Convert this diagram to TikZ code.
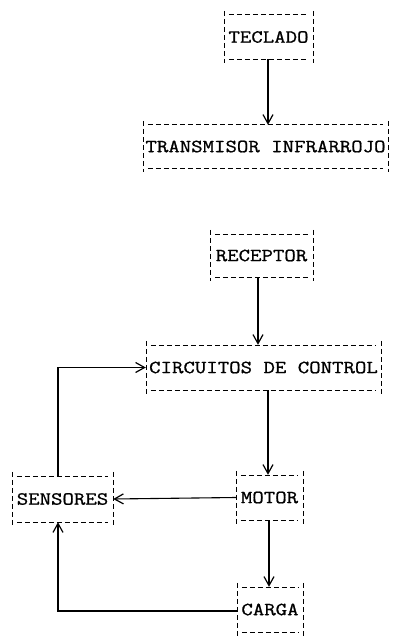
\documentclass[tikz,border=0pt]{standalone}
\usepackage{fontspec}
\setmonofont[FakeStretch=1.2,FakeBold=1]{Latin Modern Mono}
\usetikzlibrary{arrows.meta}
\tikzset{
  boxnode/.style={inner sep=0pt, font=\fontsize{18.5}{20}\ttfamily, text=black},
  edgeline/.style={line width=0.6pt, dash pattern=on 5pt off 3pt, black},
  conn/.style={line width=1.1pt, -{Straight Barb[length=9pt,width=10pt,line width=1.2pt]}},
}
\begin{document}
\begin{tikzpicture}[x=1pt,y=-1pt]
\useasboundingbox (0,0) rectangle (392,636);
\node[boxnode, minimum width=89pt, minimum height=44pt] (tec) at (268.5,37) {TECLADO};
\node[boxnode, minimum width=245pt, minimum height=43pt] (tra) at (265.5,146.5) {TRANSMISOR INFRARROJO};
\node[boxnode, minimum width=103pt, minimum height=43pt] (rec) at (261.5,255.5) {RECEPTOR};
\node[boxnode, minimum width=235pt, minimum height=45pt] (cir) at (263.5,367.5) {CIRCUITOS DE CONTROL};
\node[boxnode, minimum width=101pt, minimum height=46pt] (sen) at (62.5,499) {SENSORES};
\node[boxnode, minimum width=67pt, minimum height=45pt] (mot) at (269.5,497.5) {MOTOR};
\node[boxnode, minimum width=66pt, minimum height=45pt] (car) at (270,609.5) {CARGA};
\foreach \n in {tec,tra,rec,cir,sen,mot,car}{
  \draw[edgeline] ([yshift=4pt]\n.north west) -- ([yshift=-4pt]\n.south west);
  \draw[edgeline] ([yshift=4pt]\n.north east) -- ([yshift=-4pt]\n.south east);
  \draw[edgeline] ([xshift=5pt]\n.north west) -- ([xshift=-5pt]\n.north east);
  \draw[edgeline] ([xshift=5pt]\n.south west) -- ([xshift=-5pt]\n.south east);
}
\coordinate (a1) at (268,0);
\draw[conn] (tec.south -| a1) -- (tra.north -| a1);
\coordinate (a2) at (258,0);
\draw[conn] (rec.south -| a2) -- (cir.north -| a2);
\draw[conn] (cir.south -| a1) -- (mot.north -| a1);
\coordinate (a3) at (269,0);
\draw[conn] (mot.south -| a3) -- (car.north -| a3);
\draw[conn] (mot.west) -- (sen.east);
\coordinate (lx) at (58,0);
\draw[conn] (sen.north -| lx) -- (cir.west -| lx) -- (cir.west);
\coordinate (cy) at (0,611);
\draw[conn] (car.west |- cy) -- (lx |- cy) -- (sen.south -| lx);
\end{tikzpicture}
\end{document}
